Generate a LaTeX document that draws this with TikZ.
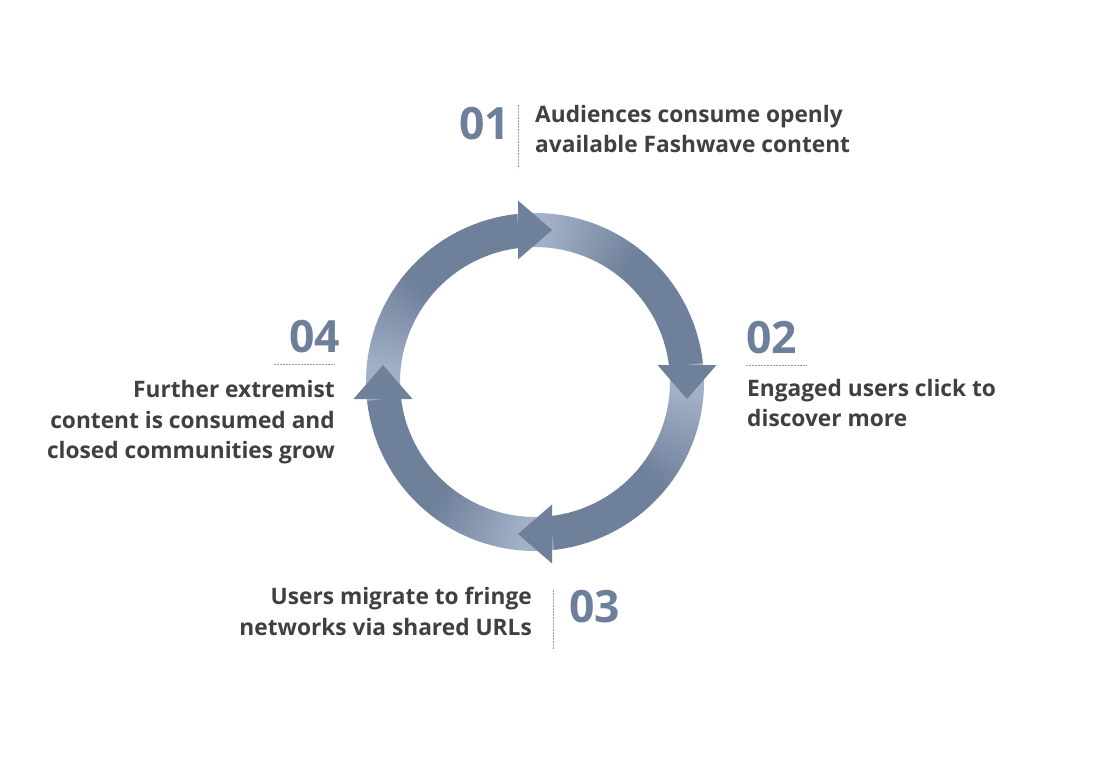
\documentclass[tikz,border=0pt]{standalone}
\usepackage{fontspec}
\setmainfont{Open Sans}
\definecolor{ringdark}{HTML}{6F809B}
\definecolor{ringlight}{HTML}{A2B1C8}
\definecolor{numcol}{HTML}{6E7F9C}
\definecolor{txtcol}{HTML}{404040}
\definecolor{sepcol}{HTML}{9A9A9A}
\begin{document}
\begin{tikzpicture}[x=1pt,y=1pt,
  num/.style={inner sep=0, text=numcol, font=\fontsize{44.5}{44.5}\selectfont\bfseries},
  body/.style={inner sep=0, text=txtcol, font=\fontsize{22.7}{30.5}\selectfont\bfseries},
  sepline/.style={draw=sepcol, line width=1pt, dash pattern=on 2pt off 1pt},
  headfill/.style={fill=ringdark}]
\path[use as bounding box, fill=white] (0,0) rectangle (1100,-759);
\begin{scope}[shift={(535,-382)}]
\foreach \k in {0,1,2,3}{
  \foreach \a in {0,1.5,...,88.5}{
    \pgfmathsetmacro\s{96.4-90*\k-\a}
    \pgfmathsetmacro\e{\s-1.7}
    \pgfmathsetmacro\p{min(100,max(0,(\a-10)/35*100))}
    \fill[ringdark!\p!ringlight] (\s:169) arc[start angle=\s, end angle=\e, radius=169] -- (\e:135) arc[start angle=\e, end angle=\s, radius=135] -- cycle;
  }
}
\foreach \t in {90,0,-90,180}{
  \fill[headfill, rotate=\t-90] (17,152) -- (-17,181.5) -- (-17,122.5) -- cycle;
}
\end{scope}
% step 01
\node[num, anchor=base east] (n1) at (510,-140) {01};
\node[body, anchor=base west, align=left] (t1) at (535,-153) {Audiences consume openly\\available Fashwave content};
\coordinate (s1a) at (518,-105); \coordinate (s1b) at (518,-168);
\draw[sepline] (s1a) -- (s1b);
% step 02
\node[num, anchor=base west] (n2) at (746,-353) {02};
\node[body, anchor=base west, align=left] (t2) at (747,-426.5) {Engaged users click to\\discover more};
\coordinate (s2a) at (746,-365); \coordinate (s2b) at (807,-365);
\draw[sepline] (s2a) -- (s2b);
% step 03
\node[num, anchor=base west] (n3) at (569,-622) {03};
\node[body, anchor=base east, align=right] (t3) at (532,-635) {Users migrate to fringe\\networks via shared URLs};
\coordinate (s3a) at (553,-590); \coordinate (s3b) at (553,-650);
\draw[sepline] (s3a) -- (s3b);
% step 04
\node[num, anchor=base east] (n4) at (340,-352) {04};
\node[body, anchor=base east, align=right] (t4) at (335,-458.5) {Further extremist\\content is consumed and\\closed communities grow};
\coordinate (s4a) at (274,-364); \coordinate (s4b) at (335,-364);
\draw[sepline] (s4a) -- (s4b);
\end{tikzpicture}
\end{document}
